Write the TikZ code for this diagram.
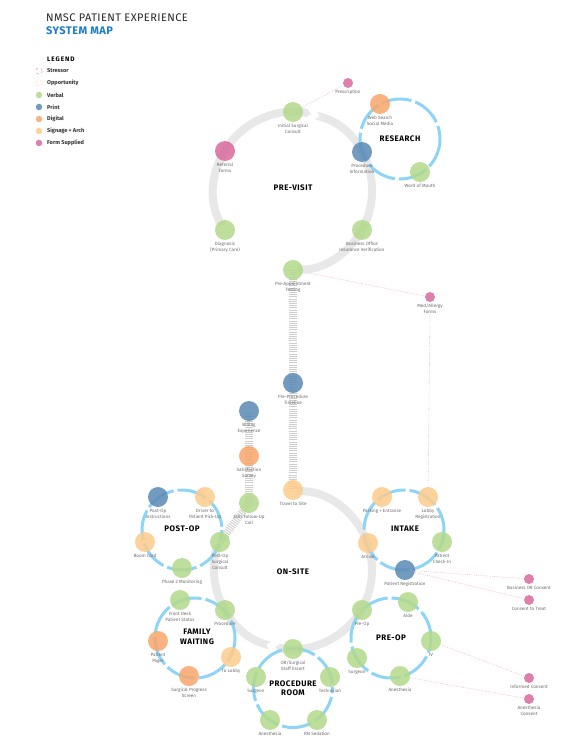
\documentclass[tikz,border=0pt]{standalone}
\usepackage{fontspec}
\setmainfont{Fira Sans}
\usetikzlibrary{arrows.meta, positioning, backgrounds}

\definecolor{verbalc}{HTML}{B3D98A}
\definecolor{printc}{HTML}{5A8AB5}
\definecolor{digitalc}{HTML}{F7A66B}
\definecolor{signc}{HTML}{FCCB8C}
\definecolor{formc}{HTML}{D9689C}
\definecolor{clusterc}{HTML}{8DD4F6}
\definecolor{flowc}{HTML}{E8E8E8}
\definecolor{hatchc}{HTML}{CDCDCD}
\definecolor{titleblue}{HTML}{1C7CC7}
\definecolor{dotc}{HTML}{F2A7C3}
\definecolor{lblc}{HTML}{6B6B6B}

\begin{document}
\begin{tikzpicture}[x=1pt, y=-1pt,
    touch/.style={circle, minimum size=20pt, inner sep=0pt, fill opacity=0.85},
    verbal/.style={touch, fill=verbalc},
    print/.style={touch, fill=printc},
    digital/.style={touch, fill=digitalc},
    signage/.style={touch, fill=signc},
    form/.style={touch, fill=formc},
    formdot/.style={form, minimum size=10pt},
    keystress/.style={circle, draw=formc!70, dashed, line width=0.5pt, minimum size=6.5pt, inner sep=0pt},
    keyopp/.style={circle, draw=signc, dotted, line width=0.6pt, minimum size=6.5pt, inner sep=0pt},
    keytext/.style={font=\fontsize{5.6}{6.5}\selectfont\bfseries, text=black!80, inner sep=0pt},
    lbl/.style={font=\fontsize{4.6}{6}\selectfont, text=lblc, align=center, inner sep=0.5pt},
    sect/.style={font=\fontsize{8}{9.5}\selectfont\bfseries\addfontfeature{LetterSpace=6}, text=black, align=center, inner sep=0pt},
    cluster/.style={draw=clusterc, line width=3pt, dash pattern=on 30pt off 4pt},
    flow/.style={draw=flowc, line width=8pt, arrows={Triangle Cap[reversed]-Triangle Cap}},
    hatch/.style={draw=hatchc, line width=8pt, dash pattern=on 0.9pt off 1.3pt},
    formlink/.style={draw=dotc, line width=0.6pt, dash pattern=on 0.6pt off 1.2pt},
    label distance=1.2pt,
    every label/.style={lbl}]

    \useasboundingbox (0,0) rectangle (578,754);

    % title and legend
    \node[anchor=base west, inner sep=0pt, font=\fontsize{11}{13}\selectfont\addfontfeature{LetterSpace=4}, text=black!85] (title) at (46,22) {NMSC PATIENT EXPERIENCE};
    \node[anchor=base west, inner sep=0pt, font=\fontsize{11}{13}\selectfont\bfseries\addfontfeature{LetterSpace=4}, text=titleblue] (subtitle) at (46,35) {SYSTEM MAP};
    \node[anchor=base west, inner sep=0pt, font=\fontsize{6.5}{8}\selectfont\bfseries\addfontfeature{LetterSpace=14}] (legend) at (47,62) {LEGEND};
    \foreach \yy/\kstyle/\txt [count=\i] in {71/keystress/Stressor, 83/keyopp/Opportunity, 95/verbal/Verbal, 107/print/Print, 119/digital/Digital, 131/signage/Signage + Arch, 143/form/Form Supplied} {
        \node[\kstyle, minimum size=6.5pt] (key\i) at (39,\yy) {};
        \node[keytext, anchor=west] (keytxt\i) at (47,\yy) {\txt};
    }

    % ring centres
    \coordinate (pv) at (293,191);
    \coordinate (os) at (293,570);
    \coordinate (research) at (400,139);
    \coordinate (intake) at (404,530);
    \coordinate (postop) at (182,530);
    \coordinate (family) at (195,638);
    \coordinate (preopc) at (391,638);
    \coordinate (procroom) at (293,688);

    % grey journey rings
    \draw[flow] ([shift={(152:79)}]pv) arc[start angle=152, end angle=283, radius=79];
    \draw[flow] ([shift={(287:79)}]pv) arc[start angle=287, end angle=448, radius=79];
    \draw[flow] ([shift={(271:79)}]os) arc[start angle=271, end angle=463, radius=79];
    \draw[flow] ([shift={(467:79)}]os) arc[start angle=467, end angle=560, radius=79];

    % blue cluster rings
    \draw[cluster] (research) circle[radius=40];
    \draw[cluster, dash phase=10pt] (intake) circle[radius=40];
    \draw[cluster, dash phase=20pt] (postop) circle[radius=40];
    \draw[cluster, dash phase=5pt] (family) circle[radius=40];
    \draw[cluster, dash phase=15pt] (preopc) circle[radius=40];
    \draw[cluster, dash phase=25pt] (procroom) circle[radius=39.5];

    % section titles
    \node[sect] (previsit-t) at (293,188) {PRE-VISIT};
    \node[sect] (research-t) at (400,139) {RESEARCH};
    \node[sect] (onsite-t) at (293,572) {ON-SITE};
    \node[sect] (intake-t) at (405,529) {INTAKE};
    \node[sect] (postop-t) at (182,529) {POST-OP};
    \node[sect] (family-t) at (197,637) {FAMILY\\WAITING};
    \node[sect] (preop-t) at (391,638) {PRE-OP};
    \node[sect] (procroom-t) at (293,688) {PROCEDURE\\ROOM};

    % pre-visit
    \node[formdot, label={[name=presc-l]below:Prescription}] (presc) at (348,83) {};
    \node[verbal, label={[name=isc-l]below:Initial Surgical\\Consult}] (isc) at (293,112) {};
    \node[digital, label={[name=web-l]below:Web Search\\Social Media}] (web) at (380,104) {};
    \node[form, label={[name=ref-l]below:Referral\\Forms}] (ref) at (225,151) {};
    \node[print, label={[name=pinfo-l]below:Procedure\\Information}] (pinfo) at (362,152) {};
    \node[verbal, label={[name=wom-l]below:Word of Mouth}] (wom) at (420,172) {};
    \node[verbal, label={[name=diag-l]below:Diagnosis\\(Primary Care)}] (diag) at (225,230) {};
    \node[verbal, label={[name=boiv-l]below:Business Office\\Insurance Verification}] (boiv) at (362,230) {};
    \node[verbal, label={[name=pat-l]below:Pre-Appointment\\Testing}] (pat) at (293,270) {};
    \node[formdot, label={[name=medal-l]below:Med/Allergy\\Forms}] (medal) at (430,297) {};
    \node[print, label={[name=ppt-l]below:Pre-Procedure\\Timeline}] (ppt) at (293,383) {};
    \node[print, label={[name=bill-l]below:Billing\\Experience}] (bill) at (249,411) {};
    \node[digital, label={[name=sat-l]below:Satisfaction\\Survey}] (sat) at (249,456) {};
    \node[signage, label={[name=travel-l]below:Travel to Site}] (travel) at (293,490) {};
    \node[verbal, label={[name=fu24-l]below:24hr Follow-Up\\Call}] (fu24) at (249,503) {};

    % post-op
    \node[print, label={[name=poi-l]below:Post-Op\\Instructions}] (poi) at (158,497) {};
    \node[signage, label={[name=drv-l]below:Driver to\\Patient Pick-Up}] (drv) at (205,497) {};
    \node[signage, label={[name=room-l]below:Room Card}] (room) at (145,542) {};
    \node[verbal, label={[name=posc-l]below:Post-Op\\Surgical\\Consult}] (posc) at (220,542) {};
    \node[verbal, label={[name=ph2-l]below:Phase 2 Monitoring}] (ph2) at (182,568) {};

    % intake
    \node[signage, label={[name=park-l]below:Parking + Entrance}] (park) at (382,497) {};
    \node[signage, label={[name=lobby-l]below:Lobby\\Registration}] (lobby) at (428,497) {};
    \node[signage, label={[name=arr-l]below:Arrival}] (arr) at (368,543) {};
    \node[verbal, label={[name=pchk-l]below:Patient\\Check-In}] (pchk) at (442,542) {};
    \node[print, label={[name=preg-l]below:Patient Registration}] (preg) at (405,570) {};

    % consent forms
    \node[formdot, label={[name=borc-l]below:Business OR Consent}] (borc) at (529,579) {};
    \node[formdot, label={[name=ctt-l]below:Consent to Treat}] (ctt) at (529,600) {};
    \node[formdot, label={[name=infc-l]below:Informed Consent}] (infc) at (529,678) {};
    \node[formdot, label={[name=anc-l]below:Anesthesia\\Consent}] (anc) at (529,699) {};

    % family waiting
    \node[verbal, label={[name=fdps-l]below:Front Desk\\Patient Status}] (fdps) at (180,600) {};
    \node[verbal, label={[name=proc-l]below:Procedure}] (proc) at (225,610) {};
    \node[digital, label={[name=pager-l]below:Patient\\Pager}] (pager) at (158,641) {};
    \node[signage, label={[name=tolobby-l]below:To Lobby}] (tolobby) at (231,657) {};
    \node[digital, label={[name=sps-l]below:Surgical Progress\\Screen}] (sps) at (189,676) {};

    % pre-op
    \node[verbal, label={[name=preop-l]below:Pre-Op}] (preop) at (362,610) {};
    \node[verbal, label={[name=aide-l]below:Aide}] (aide) at (408,602) {};
    \node[verbal, label={[name=iv-l]below:IV}] (iv) at (431,641) {};
    \node[verbal, label={[name=surg1-l]below:Surgeon}] (surg1) at (357,658) {};
    \node[verbal, label={[name=anes1-l]below:Anesthesia}] (anes1) at (400,676) {};

    % procedure room
    \node[verbal, label={[name=orse-l]below:OR/Surgical\\Staff Escort}] (orse) at (293,649) {};
    \node[verbal, label={[name=tech-l]below:Technician}] (tech) at (330,677) {};
    \node[verbal, label={[name=surg2-l]below:Surgeon}] (surg2) at (256,677) {};
    \node[verbal, label={[name=anes2-l]below:Anesthesia}] (anes2) at (270,720) {};
    \node[verbal, label={[name=rn-l]below:RN Sedation}] (rn) at (317,720) {};

    \begin{scope}[on background layer]
        % hatched hand-offs
        \draw[hatch] (pat.center) -- (travel.center);
        \draw[hatch] (posc.center) -- (fu24.center);
        \draw[hatch] (fu24.center) -- (bill.center);
        % forms supplied
        \draw[formlink] (isc) -- (presc);
        \draw[formlink] (pat) -- (medal);
        \draw[formlink] (medal-l.south) -- (lobby);
        \draw[formlink] (preg) -- (borc);
        \draw[formlink] (preg) -- (ctt);
        \draw[formlink] (iv) -- (infc);
        \draw[formlink] (anes1) -- (anc);
    \end{scope}

\end{tikzpicture}
\end{document}
